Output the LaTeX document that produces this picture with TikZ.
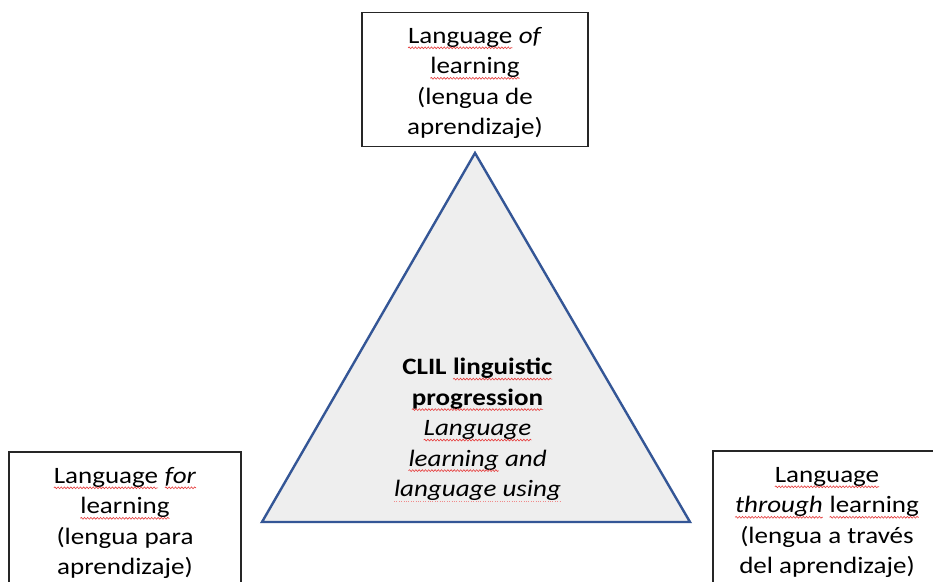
\documentclass[tikz,border=0pt]{standalone}
\usepackage{fontspec}
\setmainfont[FakeStretch=1.15]{Carlito}
\usetikzlibrary{decorations.pathmorphing}
\definecolor{triblue}{RGB}{52,86,150}
\definecolor{trifill}{RGB}{238,238,238}
\definecolor{squig}{RGB}{230,60,60}
\tikzset{
  labelbox/.style={draw=black!85, line width=1.3pt, fill=white, inner sep=0pt},
  labeltext/.style={align=center, inner sep=0pt, font=\fontsize{23.5}{30.5}\selectfont},
  tri/.style={draw=triblue, fill=trifill, line width=2.4pt},
  wordbox/.style={draw=none, fill=none, minimum width=0pt, minimum height=0pt,
    inner sep=0pt, outer sep=0pt, anchor=center, rotate=0},
  squigline/.style={draw=squig, line width=0.6pt, decorate,
    decoration={snake, amplitude=0.9pt, segment length=3.2pt}},
  dotline/.style={draw=squig!60, line width=0.7pt, dash pattern=on 0.8pt off 1.6pt}
}
\newcommand\sq[1]{\tikz[baseline=(w.base),x=1cm,y=1cm]{\node[wordbox](w){#1};
  \draw[squigline] ([yshift=-4.5pt]w.base west) -- ([yshift=-4.5pt]w.base east);}}
\newcommand\dq[1]{\tikz[baseline=(w.base),x=1cm,y=1cm]{\node[wordbox](w){#1};
  \draw[dotline] ([yshift=-5pt]w.base west) -- ([yshift=-5pt]w.base east);}}
\begin{document}
\begin{tikzpicture}[x=1pt,y=-1pt]
\useasboundingbox (0,0) rectangle (933,581);
\fill[white] (0,0) rectangle (933,581);
% triangle
\coordinate (apex) at (475,153);
\coordinate (bl) at (262,522);
\coordinate (br) at (690,522);
\draw[tri] (apex) -- (bl) -- (br) -- cycle;
% boxes
\node[labelbox, minimum width=226pt, minimum height=134pt] (top) at (475,79.5) {};
\node[labeltext] (toptext) at ([yshift=-3.5pt]top.center)
  {\sq{Language} \textit{of}\\ \sq{learning}\\ (lengua de\\ aprendizaje)};
\node[labelbox, minimum width=232pt, minimum height=150pt] (left) at (125,527) {};
\node[labeltext] (lefttext) at ([yshift=4pt]left.center)
  {\sq{Language} \sq{\textit{for}}\\ \sq{learning}\\ (lengua para\\ aprendizaje)};
\node[labelbox, minimum width=228pt, minimum height=150pt] (right) at (827,526) {};
\node[labeltext] (righttext) at ([yshift=3.5pt]right.center)
  {\sq{Language}\\ \sq{\textit{through}} \sq{learning}\\ (lengua a través\\ del aprendizaje)};
% centre text
\node[labeltext] (centre) at (477.5,430)
  {\textbf{CLIL \sq{linguistic}}\\ \textbf{\sq{progression}}\\ \textit{\sq{Language}}\\ \textit{\sq{learning} and}\\ \textit{\dq{language using}}};
\end{tikzpicture}
\end{document}
